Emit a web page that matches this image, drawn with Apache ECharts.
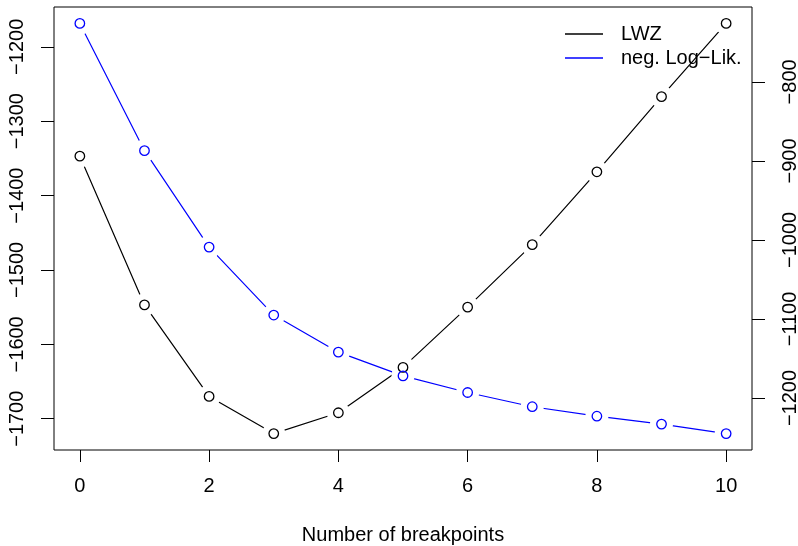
<!DOCTYPE html>
<html>
<head>
<meta charset="utf-8">
<title>Breakpoint selection: LWZ and negative log-likelihood</title>
<script src="https://cdn.jsdelivr.net/npm/echarts@6/dist/echarts.min.js"></script>
<style>
  html, body { margin: 0; padding: 0; background: #ffffff; }
  #chart { width: 798px; height: 546px; }
</style>
</head>
<body>
<div id="chart"></div>
<script>
// Number of breakpoints on the x axis
const breakpoints = [0, 1, 2, 3, 4, 5, 6, 7, 8, 9, 10];
// LWZ information criterion (left axis)
const lwz = [-1347, -1547, -1670, -1720, -1692, -1631, -1550, -1466, -1368, -1267, -1168.5];
// Negative log-likelihood (right axis)
const negLogLik = [-726, -887, -1009, -1095, -1142, -1172, -1193, -1211, -1223, -1233, -1245];

// Tick positions
const xTicks = [0, 2, 4, 6, 8, 10];
const lwzTicks = [-1700, -1600, -1500, -1400, -1300, -1200];
const logLikTicks = [-1200, -1100, -1000, -900, -800];

const seriesNames = ['LWZ', 'neg. Log\u2212Lik.'];
const seriesColors = ['#000000', '#0000ff'];
const FONT = "'Liberation Sans', Arial, Helvetica, sans-serif";
const FS = 20;

// axis range padded by 4% on each side
function padded(values) {
  const lo = Math.min.apply(null, values), hi = Math.max.apply(null, values);
  const d = (hi - lo) * 0.04;
  return { min: lo - d, max: hi + d };
}
const minus = v => String(v).replace('-', '\u2212');

const xr = padded(breakpoints);
const yl = padded(lwz);
const yr = padded(negLogLik);

const pairs = ys => breakpoints.map((b, i) => [b, ys[i]]);

function lineSeries(name, ys, axis, color) {
  return {
    name: name, type: 'line', yAxisIndex: axis, data: pairs(ys),
    showSymbol: false, symbol: 'none', z: 2, silent: true,
    lineStyle: { color: color, width: 1.2 }, itemStyle: { color: color },
    animation: false
  };
}
// white discs that open a gap in the lines around each point
function haloSeries(ys, axis) {
  return {
    type: 'scatter', yAxisIndex: axis, data: pairs(ys), symbol: 'circle',
    symbolSize: 23, z: 5, silent: true,
    itemStyle: { color: '#ffffff', borderWidth: 0, opacity: 1 }, animation: false
  };
}
// open circle markers
function pointSeries(ys, axis, color) {
  return {
    type: 'scatter', yAxisIndex: axis, data: pairs(ys), symbol: 'circle',
    symbolSize: 9.5, z: 8, silent: true,
    itemStyle: { color: 'rgba(255,255,255,0)', borderColor: color, borderWidth: 1.3, opacity: 1 },
    animation: false
  };
}

const chart = echarts.init(document.getElementById('chart'), null, { renderer: 'canvas' });
chart.setOption({
  backgroundColor: '#ffffff',
  animation: false,
  textStyle: { fontFamily: FONT, color: '#000' },
  grid: {
    left: 54, right: 46, top: 7, bottom: 96, outerBoundsMode: 'none',
    show: true, borderColor: '#000', borderWidth: 1, backgroundColor: 'transparent'
  },
  legend: {
    orient: 'vertical', left: 565, top: 24, itemGap: 4, padding: 0,
    itemWidth: 38, itemHeight: 1.3, icon: 'rect',
    selectedMode: false, z: 10,
    data: seriesNames,
    textStyle: { fontFamily: FONT, fontSize: FS, lineHeight: 20, color: '#000', padding: [0, 0, 0, 13] }
  },
  xAxis: {
    type: 'value', min: xr.min, max: xr.max,
    name: 'Number of breakpoints', nameLocation: 'middle', nameGap: 75,
    nameTextStyle: { fontFamily: FONT, fontSize: FS, color: '#000' },
    axisLine: { show: false, onZero: false },
    axisTick: { show: true, inside: false, length: 12, customValues: xTicks, lineStyle: { color: '#000', width: 1 } },
    axisLabel: { customValues: xTicks, margin: 26, fontSize: FS, fontFamily: FONT, color: '#000', formatter: minus },
    splitLine: { show: false }
  },
  yAxis: [
    {
      type: 'value', position: 'left', min: yl.min, max: yl.max,
      axisLine: { show: false, onZero: false },
      axisTick: { show: true, length: 13, customValues: lwzTicks, lineStyle: { color: '#000', width: 1 } },
      axisLabel: { customValues: lwzTicks, rotate: 90, margin: 27, fontSize: FS, fontFamily: FONT, color: '#000', formatter: minus },
      splitLine: { show: false }
    },
    {
      type: 'value', position: 'right', min: yr.min, max: yr.max,
      axisLine: { show: false, onZero: false },
      axisTick: { show: true, length: 13, customValues: logLikTicks, lineStyle: { color: '#000', width: 1 } },
      axisLabel: { customValues: logLikTicks, rotate: 90, margin: 28, fontSize: FS, fontFamily: FONT, color: '#000', formatter: minus },
      splitLine: { show: false }
    }
  ],
  series: [
    lineSeries(seriesNames[0], lwz, 0, seriesColors[0]),
    lineSeries(seriesNames[1], negLogLik, 1, seriesColors[1]),
    haloSeries(lwz, 0),
    haloSeries(negLogLik, 1),
    pointSeries(lwz, 0, seriesColors[0]),
    pointSeries(negLogLik, 1, seriesColors[1])
  ]
});
</script>
</body>
</html>
